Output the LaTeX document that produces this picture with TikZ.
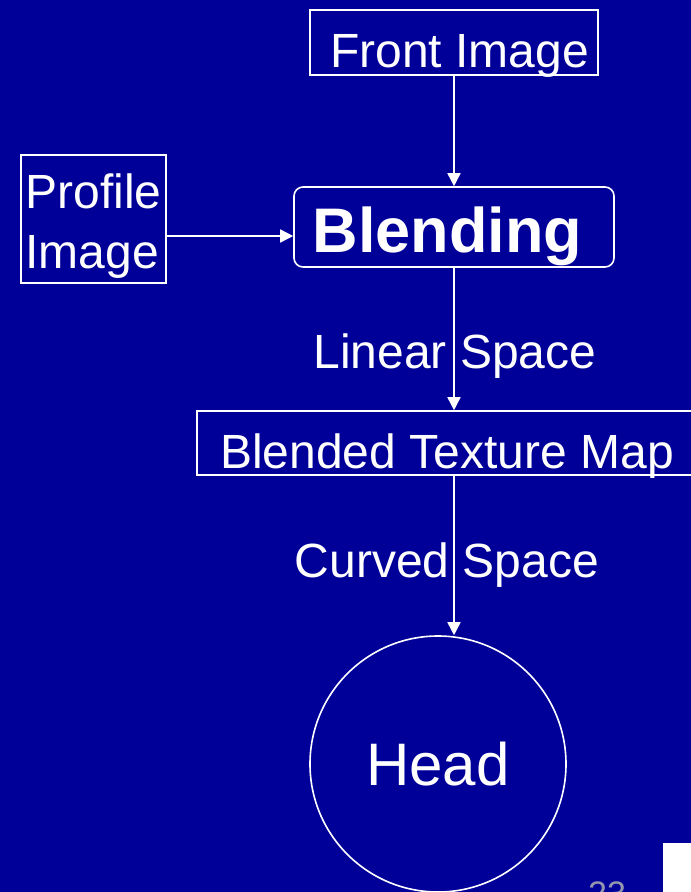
\documentclass[tikz,border=0pt]{standalone}
\usepackage{fontspec}
\setmainfont{Liberation Sans}
\usepackage{tikz}
\usetikzlibrary{arrows.meta,positioning,calc}
\definecolor{slideblue}{RGB}{0,0,153}
\definecolor{pagegray}{RGB}{150,150,175}
\tikzset{
	plainbox/.style={
		rectangle,
		draw=white, line width=1.6pt,
		text=white,
		inner sep=0pt,
		text height=50pt, text depth=0pt,
		font=\fontsize{48}{60}\selectfont,
		text centered,
	},
	roundbox/.style={
		plainbox,
		rounded corners=9pt,
		font=\fontsize{63}{70}\selectfont\bfseries,
	},
	headnode/.style={
		circle,
		draw=white, line width=1.6pt,
		text=white,
		minimum size=256pt,
		font=\fontsize{60}{70}\selectfont,
	},
	spacelabel/.style={
		text=white,
		inner sep=0pt,
		font=\fontsize{48}{60}\selectfont,
	},
	flow/.style={
		->, draw=white, line width=1.6pt,
	},
}

\begin{document}
\begin{tikzpicture}[x=1pt,y=-1pt,>={Triangle[length=13pt,width=13pt]}]

	% slide background, also fixes the page size
	\fill[slideblue] (0,0) rectangle (691,892);
	\clip (0,0) rectangle (691,892);

	% the boxes of the chain
	\node[plainbox, minimum width=288pt, minimum height=65pt, text height=49pt] (FRONT) at (454,42.5)
	{\hspace*{11pt}Front Image};
	\node[roundbox, minimum width=320pt, minimum height=80pt] (BLEND) at (454,227)
	{Blending\hspace*{13pt}};
	% tabular for the two lines, baseline on the last one
	\node[plainbox, minimum width=145pt, minimum height=128pt, text height=98pt] (PROFILE) at (93.5,219)
	{
		\begin{tabular}[b]{@{}l@{}}
		Profile\\
		Image
		\end{tabular}
	};
	\node[plainbox, minimum width=500pt, minimum height=64pt] (TEXMAP) at (447,443) {Blended Texture Map};
	\node[headnode] (HEAD) at (438,764) {Head};

	% arrows
	\draw[flow] (FRONT.south) -- (BLEND.north);
	\draw[flow] ([yshift=-17pt]PROFILE.east) -- ([yshift=-17pt]PROFILE.east -| BLEND.west);
	\draw[flow] (BLEND.south) -- (BLEND.south |- TEXMAP.north);
	\draw[flow] (TEXMAP.south -| BLEND.south) -- (HEAD.north -| BLEND.south);

	% labels on the two lower arrows
	\node[spacelabel] (LINEAR) at (455,356) {Linear Space};
	\node[spacelabel] (CURVED) at (447,565) {Curved Space};

	% slide corner: page number and white block
	\node[text=pagegray, inner sep=0pt, anchor=base, font=\fontsize{34}{40}\selectfont] (PAGENO) at (607,905) {23};
	\fill[white] (663,843) rectangle (691,892);

\end{tikzpicture}
\end{document}
